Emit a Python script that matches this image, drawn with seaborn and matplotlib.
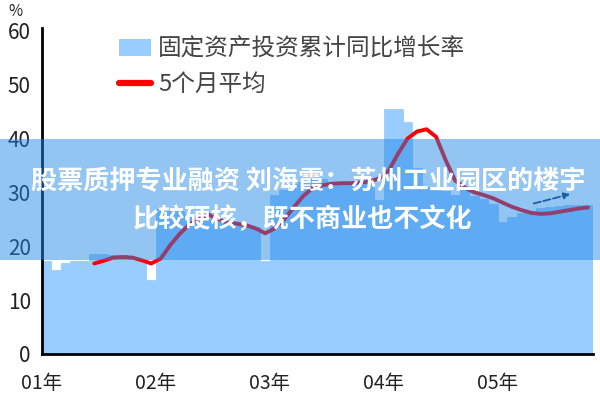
import numpy as np
import pandas as pd
import matplotlib
matplotlib.use("Agg")
import matplotlib.pyplot as plt
from matplotlib.patches import Patch, Rectangle
from matplotlib.lines import Line2D
import seaborn as sns

# ---------------- data ----------------
year_labels = ["01年", "02年", "03年", "04年", "05年"]

# monthly cumulative YoY growth of fixed-asset investment, Jan 2001 .. Oct 2005 (%)
fai_2001 = [17.3, 15.5, 16.8, 17.3, 17.3, 18.6, 18.6, 18.3, 18.3, 18.0, 17.3, 13.7]
fai_2002 = [26.9, 26.9, 26.5, 26.0, 25.5, 25.0, 24.5, 24.2, 24.0, 23.8, 23.5, 17.3]
fai_2003 = [29.5, 30.5, 31.5, 32.0, 32.5, 32.5, 32.0, 32.0, 31.8, 31.5, 31.8, 28.5]
fai_2004 = [45.5, 45.5, 43.0, 34.5, 31.0, 30.5, 30.3, 29.5, 30.5, 29.3, 28.8, 27.8]
fai_2005 = [24.5, 25.5, 26.1, 26.4, 27.1, 27.2, 27.4, 27.7, 27.6, 27.6]

# 5-month average line, starting at month index 5 (Jun 2001)
avg_start = 5
avg_values = [16.8, 17.3, 17.9, 18.0, 17.9, 17.4, 16.8,
              17.7, 20.2, 22.3, 24.0, 25.1, 25.9, 25.0, 24.4, 24.2, 23.9, 23.3, 22.4,
              23.3, 25.0, 27.2, 29.3, 30.8, 31.3, 31.6, 31.7, 31.7, 31.8, 32.0, 32.6,
              34.0, 37.2, 40.0, 41.3, 41.7, 40.3, 36.0, 32.2, 30.9, 30.0, 29.5, 28.9,
              28.1, 27.3, 26.7, 26.2, 26.0, 26.1, 26.4, 26.7, 27.0, 27.2]

legend_bar = "固定资产投资累计同比增长率"
legend_line = "5个月平均"
overlay_line1 = "股票质押专业融资 刘海霞：苏州工业园区的楼宇"
overlay_line2 = "比较硬核，既不商业也不文化"

fai = fai_2001 + fai_2002 + fai_2003 + fai_2004 + fai_2005
month_idx = list(range(len(fai)))
bars_df = pd.DataFrame({"pos": month_idx, "value": fai})
line_df = pd.DataFrame({"pos": list(range(avg_start, avg_start + len(avg_values))),
                        "value": avg_values})

# ---------------- style ----------------
sns.set_theme(style="white")
plt.rcParams["font.family"] = ["Noto Sans CJK SC", "DejaVu Sans"]
plt.rcParams["axes.unicode_minus"] = False

BAR_COLOR = "#99CCFF"
LINE_COLOR = "#FF0000"

fig = plt.figure(figsize=(6, 4), dpi=100)
ax = fig.add_axes([0.07, 0.115, 0.918, 0.815])

sns.barplot(data=bars_df, x="pos", y="value", native_scale=True, width=1.0,
            color=BAR_COLOR, saturation=1, linewidth=0.6, edgecolor=BAR_COLOR,
            ax=ax, errorbar=None)
sns.lineplot(data=line_df, x="pos", y="value", color=LINE_COLOR, linewidth=2.8,
             ax=ax, legend=False)

# trend arrow
ax.annotate("", xy=(55.4, 29.8), xytext=(51.0, 27.8),
            arrowprops=dict(arrowstyle="-|>", color="#1A3A66", lw=1.3,
                            linestyle=(0, (4, 1.5)), mutation_scale=9))

ax.set_xlim(-0.5, len(fai) - 0.5)
ax.set_ylim(0, 60.5)
ax.set_xticks([-0.5 + 12 * k for k in range(len(year_labels))])
ax.set_xticklabels(year_labels)
ax.set_yticks([0, 10, 20, 30, 40, 50, 60])
ax.set_xlabel("")
ax.set_ylabel("")

for side in ["top", "right"]:
    ax.spines[side].set_visible(False)
for side in ["left", "bottom"]:
    ax.spines[side].set_color("black")
    ax.spines[side].set_linewidth(2.0)
ax.tick_params(axis="both", which="both", direction="out", length=6, width=2,
               color="black", labelsize=14, labelcolor="#222222")
ax.tick_params(axis="y", labelsize=15, pad=2)
ax.tick_params(axis="x", pad=8)

fig.text(8 / 600, 1 - 12 / 400, "%", fontsize=11, color="#222222",
         ha="left", va="center")

handles = [Patch(facecolor=BAR_COLOR, edgecolor="none"),
           Line2D([0], [0], color=LINE_COLOR, linewidth=4.5, solid_capstyle="round")]
leg = ax.legend(handles, [legend_bar, legend_line], loc="upper left",
                bbox_to_anchor=(119 / 600, 1 - 38 / 400),
                bbox_transform=fig.transFigure, frameon=False, fontsize=17,
                handlelength=1.35, handleheight=0.7, handletextpad=0.3,
                labelspacing=0.5, borderaxespad=0, borderpad=0)
for t in leg.get_texts():
    t.set_color("#444444")

# semi-transparent overlay banner with headline text
band = Rectangle((0, 1 - 260 / 400), 1, 121 / 400, transform=fig.transFigure,
                 facecolor="#1E86E6", alpha=0.48, edgecolor="none", zorder=10)
fig.patches.append(band)
fig.text(308 / 600, 1 - 182 / 400, overlay_line1, color="white", fontsize=18.8,
         fontweight="bold", ha="center", va="center", zorder=11)
fig.text(302 / 600, 1 - 220 / 400, overlay_line2, color="white", fontsize=18.8,
         fontweight="bold", ha="center", va="center", zorder=11)

fig.savefig("out.png", dpi=100)
